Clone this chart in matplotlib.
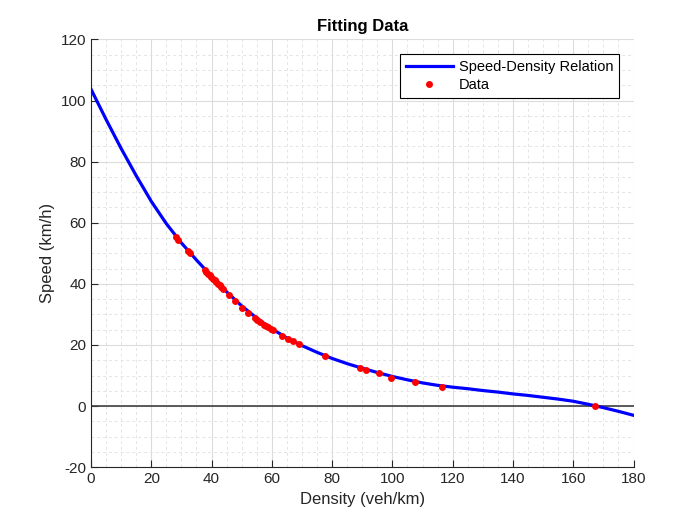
import numpy as np
import matplotlib
matplotlib.use('Agg')
from matplotlib import pyplot as plt
from matplotlib.ticker import MultipleLocator

# fitted curve
curve_x = [0, 5, 10, 15, 20, 25, 30, 35, 40, 45, 50, 55, 60, 65, 70, 75, 80, 85, 90,
           95, 100, 105, 110, 115, 120, 125, 130, 135, 140, 145, 150, 155, 160, 165,
           170, 175, 180]
curve_v = [103.7, 93.8, 84.3, 75.4, 67.0, 59.7, 53.4, 47.8, 42.5, 37.4, 32.8, 28.8, 25.3,
           22.3, 19.8, 17.6, 15.6, 13.9, 12.4, 11.0, 9.7, 8.6, 7.6, 6.8, 6.2, 5.7, 5.1,
           4.6, 4.0, 3.5, 2.9, 2.3, 1.6, 0.6, -0.5, -1.7, -3.0]

# measured data
density = [28.3, 28.9, 32.3, 32.8, 37.7, 38.3, 38.8, 39.4, 39.9, 40.5, 41.0, 41.6, 42.1,
           42.7, 43.2, 43.8, 45.7, 47.9, 50.1, 52.2, 54.3, 55.2, 56.0, 57.3, 58.0, 58.7,
           59.6, 60.4, 63.4, 65.4, 67.0, 68.9, 77.8, 89.4, 91.2, 95.5, 99.6, 107.6,
           116.5, 167.2]
speed = [55.2, 54.5, 50.7, 50.2, 44.7, 44.0, 43.3, 42.8, 42.2, 41.6, 41.2, 40.6, 40.1,
         39.5, 39.0, 38.2, 36.3, 34.4, 32.2, 30.6, 28.9, 28.1, 27.5, 26.6, 26.2, 25.9,
         25.3, 24.8, 22.9, 21.9, 21.2, 20.2, 16.4, 12.6, 11.9, 10.8, 9.1, 8.0, 6.4, 0.0]

plt.rcParams['font.family'] = ['Liberation Sans', 'DejaVu Sans']
plt.rcParams['axes.unicode_minus'] = False

fig = plt.figure(figsize=(7, 5.25), dpi=100)
ax = fig.add_axes([0.13, 0.11, 0.775, 0.815])

ax.axhline(0, color='#404040', lw=1.2, zorder=2)
ax.plot(curve_x, curve_v, color='#0000ff', lw=2.3, label='Speed-Density Relation', zorder=3)
ax.plot(density, speed, 'o', color='#ff0000', ms=5, mec='none', label='Data', zorder=4)

ax.set_xlim(0, 180)
ax.set_ylim(-20, 120)
ax.xaxis.set_major_locator(MultipleLocator(20))
ax.yaxis.set_major_locator(MultipleLocator(20))
ax.xaxis.set_minor_locator(MultipleLocator(5))
ax.yaxis.set_minor_locator(MultipleLocator(5))
ax.grid(which='major', color='#dcdcdc', lw=0.8, ls='-')
ax.grid(which='minor', color='#e4e4e4', lw=0.7, ls=(0, (3, 3)))
ax.set_axisbelow(True)

for s in ['top', 'right']:
    ax.spines[s].set_visible(False)
for s in ['left', 'bottom']:
    ax.spines[s].set_color('#262626')
ax.tick_params(which='major', direction='in', length=5, colors='#262626', labelsize=11)
ax.tick_params(which='minor', length=0)

ax.set_xlabel('Density (veh/km)', fontsize=12, color='#262626')
ax.set_ylabel('Speed (km/h)', fontsize=12, color='#262626')
ax.set_title('Fitting Data', fontsize=12, fontweight='bold')

leg = ax.legend(loc='upper right', fontsize=10.5, fancybox=False, framealpha=1,
                edgecolor='black', handlelength=3.2, handletextpad=0.4,
                borderaxespad=1.0, borderpad=0.4, labelspacing=0.3)
leg.get_frame().set_linewidth(0.8)

plt.savefig('out.png', dpi=100)
